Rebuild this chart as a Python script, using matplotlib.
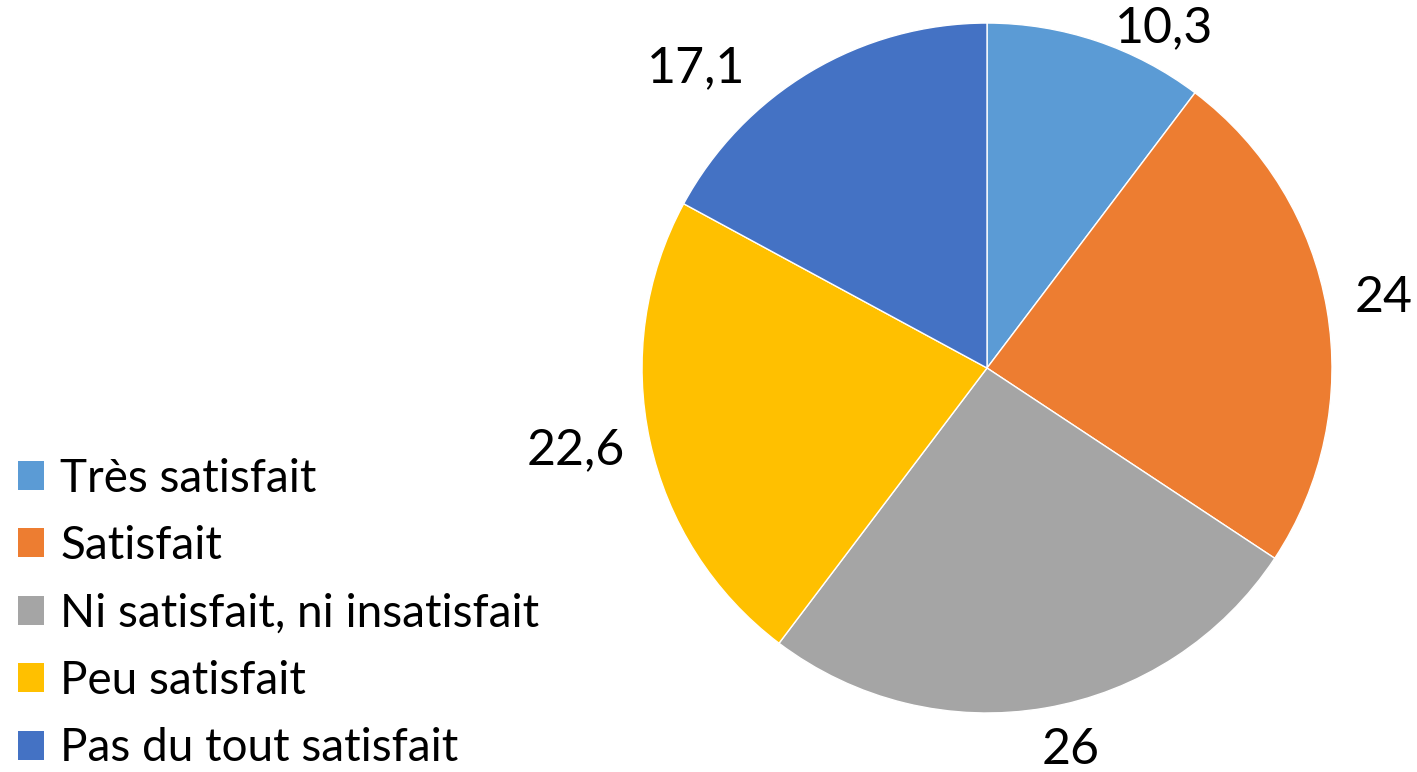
import matplotlib.pyplot as plt
from matplotlib.patches import Patch

# data
categories = ["Très satisfait", "Satisfait", "Ni satisfait, ni insatisfait",
              "Peu satisfait", "Pas du tout satisfait"]
values = [10.3, 24, 26, 22.6, 17.1]
value_labels = ["10,3", "24", "26", "22,6", "17,1"]
colors = ["#5B9BD5", "#ED7D31", "#A5A5A5", "#FFC000", "#4472C4"]

# where Excel put the data labels (in pie-radius units)
label_pos = [(0.513, 0.986), (1.151, 0.203), (0.241, -1.107),
             (-1.191, -0.238), (-0.843, 0.870)]

plt.rcParams['font.family'] = ['Lato', 'DejaVu Sans']

fig = plt.figure(figsize=(14.17, 7.72), dpi=100)
ax = fig.add_axes([0.4531, 0.0764, 0.4869, 0.8938])

wedges, texts = ax.pie(values, labels=value_labels, colors=colors,
                       startangle=90, counterclock=False,
                       wedgeprops={'edgecolor': 'white', 'linewidth': 1},
                       textprops={'fontsize': 36, 'color': 'black'})
for t, (x, y) in zip(texts, label_pos):
    t.set_position((x, y))
    t.set_ha('center')
    t.set_va('center')
ax.set_xlim(-1, 1)
ax.set_ylim(-1, 1)
ax.set_aspect('equal')

handles = [Patch(facecolor=c, edgecolor='none') for c in colors]
fig.legend(handles, categories, loc='upper left', bbox_to_anchor=(0.0, 0.431),
           frameon=False, fontsize=33, handlelength=0.57, handleheight=0.6,
           handletextpad=0.35, labelspacing=0.555, borderaxespad=0)

fig.savefig("out.png", dpi=100)
